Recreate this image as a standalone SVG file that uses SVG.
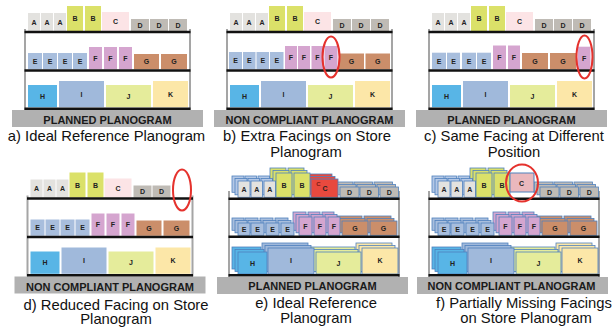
<svg xmlns="http://www.w3.org/2000/svg" xmlns:xlink="http://www.w3.org/1999/xlink" width="612" height="327" viewBox="0 0 612 327">
<style>
.A{fill:var(--a,#e3e2df)} .B{fill:#dbe169} .C{fill:#fce4e6} .D{fill:var(--d,#bfbbb5)} .E{fill:#a8bedd} .F{fill:#d5a5cf} .G{fill:#cb8e6a} .H{fill:#58b5e6} .I{fill:#a0b9db} .J{fill:#e5ec9b} .K{fill:#fce7a8}
.Cr{fill:#e8493e}
.s3 rect{stroke:#4f81bd;stroke-width:0.8}
text{font-family:"Liberation Sans",Arial,sans-serif}
.lb{font-weight:bold;font-size:7px;fill:#222;text-anchor:middle}
.shelf{stroke:#111;stroke-width:2.6}
.post{stroke:#a5a5a5;stroke-width:2}
.base{fill:#b1b1b1}
.bt{font-weight:bold;font-size:11px;fill:#1a1a1a;text-anchor:middle}
.cap{font-size:14.8px;fill:#111;text-anchor:middle}
.ring{fill:none;stroke:#e5322d;stroke-width:2}
.back{--a:#b4c8e6}
</style>
<defs>
  <g id="posts2">
    <line class="post" x1="25" y1="29" x2="25" y2="110"/>
    <line class="post" x1="190" y1="29" x2="190" y2="110"/>
    <rect class="base" x="12" y="110" width="191" height="17"/>
  </g>
  <g id="shelves2">
    <line class="shelf" x1="24.5" y1="32" x2="190.5" y2="32"/>
    <line class="shelf" x1="24.5" y1="70.5" x2="190.5" y2="70.5"/>
    <line class="shelf" x1="24.5" y1="108.8" x2="190.5" y2="108.8"/>
  </g>
  <g id="top2">
    <rect class="A" x="28" y="13" width="12" height="18"/>
    <rect class="A" x="41" y="13" width="12" height="18"/>
    <rect class="A" x="54" y="13" width="12" height="18"/>
    <rect class="B" x="67" y="6" width="16" height="25"/>
    <rect class="B" x="85" y="6" width="16" height="25"/>
    <rect class="C" x="102" y="12" width="27" height="19"/>
    <rect class="D" x="131" y="19" width="18" height="12"/>
    <rect class="D" x="150" y="19" width="18" height="12"/>
    <text class="lb" x="34" y="24.8">A</text>
    <text class="lb" x="47" y="24.8">A</text>
    <text class="lb" x="60" y="24.8">A</text>
    <text class="lb" x="75" y="21">B</text>
    <text class="lb" x="93" y="21">B</text>
    <text class="lb" x="115.5" y="24">C</text>
    <text class="lb" x="140" y="27.5">D</text>
    <text class="lb" x="159" y="27.5">D</text>
  </g>
  <g id="d3">
    <rect class="D" x="169" y="19" width="18" height="12"/>
    <text class="lb" x="178" y="27.5">D</text>
  </g>
  <g id="mid2">
    <rect class="E" x="28" y="53" width="14" height="16.3"/>
    <rect class="E" x="43" y="53" width="14" height="16.3"/>
    <rect class="E" x="58" y="53" width="14" height="16.3"/>
    <rect class="E" x="73" y="53" width="14" height="16.3"/>
    <rect class="F" x="89" y="47" width="13" height="22.3"/>
    <rect class="F" x="104" y="47" width="13" height="22.3"/>
    <rect class="F" x="119" y="47" width="13" height="22.3"/>
    <rect class="G" x="134" y="54" width="25" height="15.3"/>
    <rect class="G" x="161" y="54" width="26" height="15.3"/>
    <text class="lb" x="35" y="63.6">E</text>
    <text class="lb" x="50" y="63.6">E</text>
    <text class="lb" x="65" y="63.6">E</text>
    <text class="lb" x="80" y="63.6">E</text>
    <text class="lb" x="95.5" y="60.6">F</text>
    <text class="lb" x="110.5" y="60.6">F</text>
    <text class="lb" x="125.5" y="60.6">F</text>
    <text class="lb" x="146.5" y="64.2">G</text>
    <text class="lb" x="174" y="64.2">G</text>
  </g>
  <g id="bot2">
    <rect class="H" x="28" y="85" width="29" height="22.3"/>
    <rect class="I" x="59" y="81" width="45" height="26.3"/>
    <rect class="J" x="106" y="85" width="45" height="22.3"/>
    <rect class="K" x="153" y="81" width="35" height="26.3"/>
    <text class="lb" x="42.5" y="98.8">H</text>
    <text class="lb" x="81.5" y="96.6">I</text>
    <text class="lb" x="128.5" y="98.8">J</text>
    <text class="lb" x="170.5" y="96.6">K</text>
  </g>
  <g id="posts3">
    <line class="post" x1="229" y1="191" x2="229" y2="277"/>
    <line class="post" x1="399" y1="191" x2="399" y2="277"/>
    <rect class="base" x="217" y="277" width="191" height="17"/>
  </g>
  <g id="shelves3">
    <line class="shelf" x1="228.5" y1="198.7" x2="399.5" y2="198.7"/>
    <line class="shelf" x1="228.5" y1="236.7" x2="399.5" y2="236.7"/>
    <line class="shelf" x1="228.5" y1="275.3" x2="399.5" y2="275.3"/>
  </g>
  <g id="eTopR" class="s3">
    <rect class="A" x="238" y="181" width="12" height="16.3"/>
    <rect class="A" x="251" y="181" width="11.5" height="16.3"/>
    <rect class="A" x="264" y="181" width="11.5" height="16.3"/>
    <rect class="B" x="276" y="173" width="16" height="24.3"/>
    <rect class="B" x="294" y="173" width="16" height="24.3"/>
    <rect class="D" x="340" y="187" width="19" height="10.3"/>
    <rect class="D" x="360" y="187" width="18.5" height="10.3"/>
    <rect class="D" x="380" y="187" width="18.5" height="10.3"/>
  </g>
  <g id="eCR" class="s3">
    <rect class="Cr" x="311" y="179" width="27" height="18.3"/>
  </g>
  <g id="eMidR" class="s3">
    <rect class="E" x="238" y="223" width="12" height="12.3"/>
    <rect class="E" x="251" y="223" width="13" height="12.3"/>
    <rect class="E" x="266" y="223" width="13" height="12.3"/>
    <rect class="E" x="281" y="223" width="13" height="12.3"/>
    <rect class="F" x="299" y="217" width="13" height="18.3"/>
    <rect class="F" x="314" y="217" width="12" height="18.3"/>
    <rect class="F" x="328" y="217" width="12" height="18.3"/>
    <rect class="G" x="342" y="221" width="26" height="14.3"/>
    <rect class="G" x="370" y="221" width="27" height="14.3"/>
  </g>
  <g id="eBotR" class="s3">
    <rect class="H" x="238" y="252" width="29" height="22"/>
    <rect class="I" x="268" y="248" width="46" height="26"/>
    <rect class="J" x="316" y="252" width="45" height="22"/>
    <rect class="K" x="362" y="248" width="36" height="26"/>
  </g>
  <g id="eLab">
    <text class="lb" x="244" y="191.6">A</text>
    <text class="lb" x="256.75" y="191.6">A</text>
    <text class="lb" x="269.75" y="191.6">A</text>
    <text class="lb" x="284" y="187.6">B</text>
    <text class="lb" x="302" y="187.6">B</text>
    <text class="lb" x="349.5" y="194.6">D</text>
    <text class="lb" x="369.25" y="194.6">D</text>
    <text class="lb" x="389.25" y="194.6">D</text>
    <text class="lb" x="244" y="231.6">E</text>
    <text class="lb" x="257.5" y="231.6">E</text>
    <text class="lb" x="272.5" y="231.6">E</text>
    <text class="lb" x="287.5" y="231.6">E</text>
    <text class="lb" x="305.5" y="228.6">F</text>
    <text class="lb" x="320" y="228.6">F</text>
    <text class="lb" x="334" y="228.6">F</text>
    <text class="lb" x="355" y="230.6">G</text>
    <text class="lb" x="383.5" y="230.6">G</text>
    <text class="lb" x="252.5" y="265.5">H</text>
    <text class="lb" x="291" y="262.5">I</text>
    <text class="lb" x="338.5" y="265.5">J</text>
    <text class="lb" x="380" y="262.5">K</text>
  </g>
</defs>

<g id="panel-a">
  <use xlink:href="#posts2"/>
  <use xlink:href="#top2"/>
  <use xlink:href="#d3"/>
  <use xlink:href="#mid2"/>
  <use xlink:href="#bot2"/>
  <use xlink:href="#shelves2"/>
  <text class="bt" x="107.5" y="124">PLANNED PLANOGRAM</text>
  <text class="cap" x="106.5" y="140.5">a) Ideal Reference Planogram</text>
</g>

<g id="panel-b">
  <g transform="translate(202,0)">
    <use xlink:href="#posts2"/>
    <use xlink:href="#top2"/>
    <use xlink:href="#d3"/>
    <use xlink:href="#bot2"/>
  </g>
  <g id="b-mid">
    <rect class="E" x="229" y="52" width="13" height="17.3"/>
    <rect class="E" x="243" y="52" width="12.5" height="17.3"/>
    <rect class="E" x="256.5" y="52" width="12.5" height="17.3"/>
    <rect class="E" x="270" y="52" width="13.5" height="17.3"/>
    <rect class="F" x="285" y="46" width="12" height="23.3"/>
    <rect class="F" x="298" y="46" width="12" height="23.3"/>
    <rect class="F" x="311.5" y="46" width="12" height="23.3"/>
    <rect class="F" x="324.5" y="46" width="13" height="23.3"/>
    <rect class="G" x="339" y="53.5" width="25" height="15.8"/>
    <rect class="G" x="365.5" y="53.5" width="24.5" height="15.8"/>
    <text class="lb" x="235.5" y="63.2">E</text>
    <text class="lb" x="249.25" y="63.2">E</text>
    <text class="lb" x="262.75" y="63.2">E</text>
    <text class="lb" x="276.75" y="63.2">E</text>
    <text class="lb" x="291" y="60.2">F</text>
    <text class="lb" x="304" y="60.2">F</text>
    <text class="lb" x="317.5" y="60.2">F</text>
    <text class="lb" x="331" y="60.2">F</text>
    <text class="lb" x="351.5" y="64">G</text>
    <text class="lb" x="377.75" y="64">G</text>
  </g>
  <use xlink:href="#shelves2" transform="translate(202,0)"/>
  <ellipse class="ring" cx="331" cy="57" rx="8.5" ry="20.5"/>
  <text class="bt" x="309.5" y="123.5">NON COMPLIANT PLANOGRAM</text>
  <text class="cap" x="307" y="140.5">b) Extra Facings on Store</text>
  <text class="cap" x="306" y="156.5">Planogram</text>
</g>

<g id="panel-c">
  <g transform="translate(404,0)">
    <use xlink:href="#posts2"/>
    <use xlink:href="#top2"/>
    <use xlink:href="#d3"/>
    <use xlink:href="#bot2"/>
  </g>
  <g id="c-mid">
    <rect class="E" x="432" y="52.7" width="14" height="16.6"/>
    <rect class="E" x="447" y="52.7" width="13" height="16.6"/>
    <rect class="E" x="462" y="52.7" width="14" height="16.6"/>
    <rect class="E" x="477" y="52.7" width="14" height="16.6"/>
    <rect class="F" x="493" y="45.5" width="13" height="23.8"/>
    <rect class="F" x="508" y="45.5" width="12" height="23.8"/>
    <rect class="G" x="522" y="53" width="26" height="16.3"/>
    <rect class="G" x="550" y="53" width="26" height="16.3"/>
    <rect class="F" x="578" y="46.7" width="12.5" height="22.6"/>
    <text class="lb" x="439" y="63.5">E</text>
    <text class="lb" x="453.5" y="63.5">E</text>
    <text class="lb" x="469" y="63.5">E</text>
    <text class="lb" x="484" y="63.5">E</text>
    <text class="lb" x="499.5" y="59.9">F</text>
    <text class="lb" x="514" y="59.9">F</text>
    <text class="lb" x="535" y="63.6">G</text>
    <text class="lb" x="563" y="63.6">G</text>
    <text class="lb" x="584.25" y="60.5">F</text>
  </g>
  <use xlink:href="#shelves2" transform="translate(404,0)"/>
  <ellipse class="ring" cx="584.5" cy="57" rx="8" ry="21.5"/>
  <text class="bt" x="511.5" y="123.5">PLANNED PLANOGRAM</text>
  <text class="cap" x="514" y="140.5">c) Same Facing at Different</text>
  <text class="cap" x="514" y="156.5">Position</text>
</g>

<g id="panel-d">
  <g transform="translate(2.5,166.5)">
    <use xlink:href="#posts2"/>
    <use xlink:href="#top2"/>
    <use xlink:href="#mid2"/>
    <use xlink:href="#bot2"/>
    <use xlink:href="#shelves2"/>
  </g>
  <ellipse class="ring" cx="182" cy="190" rx="9" ry="20.5"/>
  <text class="bt" x="110" y="290.5">NON COMPLIANT PLANOGRAM</text>
  <text class="cap" x="116" y="309.5">d) Reduced Facing on Store</text>
  <text class="cap" x="116" y="324">Planogram</text>
</g>

<g id="panel-e">
  <use xlink:href="#posts3"/>
  <g class="back" transform="translate(-6,-5)">
    <use xlink:href="#eTopR"/><use xlink:href="#eCR"/><use xlink:href="#eMidR"/><use xlink:href="#eBotR"/>
  </g>
  <g class="back" transform="translate(-3,-2.5)">
    <use xlink:href="#eTopR"/><use xlink:href="#eCR"/><use xlink:href="#eMidR"/><use xlink:href="#eBotR"/>
  </g>
  <use xlink:href="#eTopR"/><use xlink:href="#eCR"/><use xlink:href="#eMidR"/><use xlink:href="#eBotR"/>
  <use xlink:href="#eLab"/>
  <text class="lb" x="318.5" y="186" style="fill:#7a1c14;font-size:6px">C</text>
  <text class="lb" x="325" y="191">C</text>
  <use xlink:href="#shelves3"/>
  <text class="bt" x="312.5" y="290">PLANNED PLANOGRAM</text>
  <text class="cap" x="316" y="307.5">e) Ideal Reference</text>
  <text class="cap" x="316" y="323">Planogram</text>
</g>

<g id="panel-f">
  <g transform="translate(200,0)">
    <use xlink:href="#posts3"/>
    <g class="back" transform="translate(-6,-5)">
      <use xlink:href="#eTopR"/><use xlink:href="#eMidR"/><use xlink:href="#eBotR"/>
    </g>
    <g class="back" transform="translate(-3,-2.5)">
      <use xlink:href="#eTopR"/><use xlink:href="#eMidR"/><use xlink:href="#eBotR"/>
    </g>
    <use xlink:href="#eTopR"/><use xlink:href="#eMidR"/><use xlink:href="#eBotR"/>
    <use xlink:href="#eLab"/>
  </g>
  <rect x="510" y="173" width="24" height="19" fill="#eab8bd" stroke="#4f81bd" stroke-width="1"/>
  <text class="lb" x="521.5" y="185.5">C</text>
  <use xlink:href="#shelves3" transform="translate(200,0)"/>
  <ellipse class="ring" cx="522" cy="183" rx="16" ry="18.5"/>
  <text class="bt" x="511.5" y="290">NON COMPLIANT PLANOGRAM</text>
  <text class="cap" x="524" y="307.5">f) Partially Missing Facings</text>
  <text class="cap" x="526" y="323">on Store Planogram</text>
</g>
</svg>
